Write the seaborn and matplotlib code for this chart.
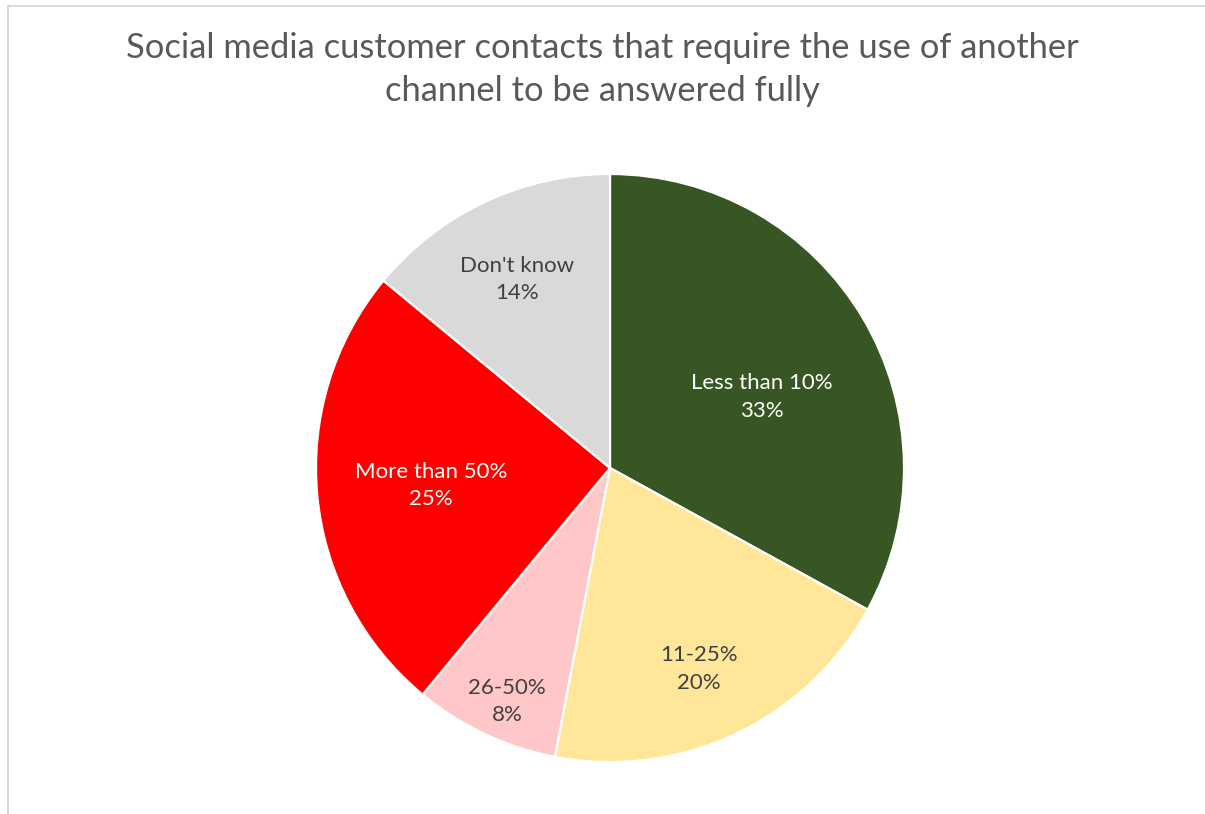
import numpy as np
import matplotlib
matplotlib.use("Agg")
import matplotlib.pyplot as plt
import seaborn as sns
from matplotlib.lines import Line2D

# Survey shares, clockwise from 12 o'clock
categories = ["Less than 10%", "11-25%", "26-50%", "More than 50%", "Don't know"]
shares = [33, 20, 8, 25, 14]
colors = ["#375623", "#FFE699", "#FFC7C7", "#FF0000", "#D9D9D9"]
label_colors = ["white", "#404040", "#404040", "white", "#404040"]
# label placement inside each wedge: radius fraction and angular nudge (deg)
label_radius = [0.571, 0.748, 0.867, 0.612, 0.716]
label_angle_shift = [-5.6, -1.3, 1.4, 0.3, 1.0]

title = "Social media customer contacts that require the use of another\nchannel to be answered fully"

sns.set_style("white")
plt.rcParams["font.family"] = ["Lato", "DejaVu Sans"]

W, H = 1205, 814
fig = plt.figure(figsize=(W / 100, H / 100), dpi=100)
fig.patch.set_facecolor("white")

# light chart-area frame edges (top and left)
frame_kw = dict(transform=fig.transFigure, color="#D9D9D9", linewidth=1.5)
fig.lines.append(Line2D([8 / W, 1.0], [1 - 6 / H, 1 - 6 / H], **frame_kw))
fig.lines.append(Line2D([8 / W, 8 / W], [0.0, 1 - 6 / H], **frame_kw))

ax = fig.add_axes([316 / W, 52 / H, 588 / W, 588 / H])
wedges, _ = ax.pie(shares, colors=colors, startangle=90, counterclock=False,
                   radius=1.0,
                   wedgeprops=dict(edgecolor="white", linewidth=1.6))
ax.set_xlim(-1, 1)
ax.set_ylim(-1, 1)
ax.set_aspect("equal")
ax.axis("off")

for w, cat, val, col, r, dth in zip(wedges, categories, shares, label_colors,
                                    label_radius, label_angle_shift):
    mid = np.deg2rad((w.theta1 + w.theta2) / 2 + dth)
    ax.text(r * np.cos(mid), r * np.sin(mid), f"{cat}\n{val}%",
            ha="center", va="center", color=col, fontsize=16,
            linespacing=1.45)

fig.text(0.5, 1 - 69.5 / H, title, ha="center", va="center",
         color="#595959", fontsize=24.8, linespacing=1.46)

fig.savefig("out.png", dpi=100, facecolor="white")
